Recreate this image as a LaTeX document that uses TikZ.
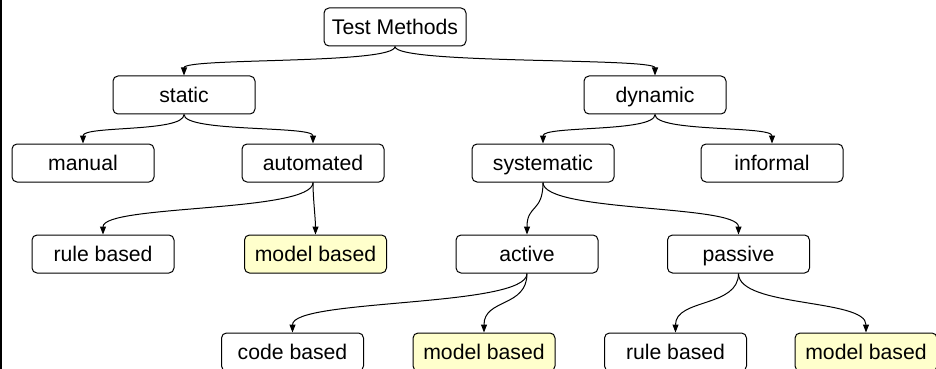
\documentclass[tikz,border=0pt]{standalone}
\usepackage{fontspec}
\setmainfont{Liberation Sans}
\usetikzlibrary{arrows.meta}
\tikzset{
  box/.style={draw=black, line width=0.5pt, rounded corners=2.5pt, minimum width=71pt, minimum height=19pt, inner sep=0pt, text height=0.75em, text depth=0em, font=\fontsize{10.6}{12}\selectfont, fill=white},
  hl/.style={box, fill=yellowbox},
  edge/.style={draw=black, line width=0.5pt, -{Triangle[length=4pt,width=3pt]}}
}
\definecolor{yellowbox}{RGB}{255,255,204}
\newcommand{\sedge}[3]{\draw[edge] (#1.south) .. controls +(0,-#3) and +(0,#3) .. (#2.north);}
\begin{document}
\begin{tikzpicture}[x=0.5pt,y=-0.5pt]
\clip (0,0) rectangle (936,369);
\fill[white] (0,0) rectangle (936,369);
\draw[line width=0.9pt] (0.9,0) -- (0.9,369);
\node[box] (tm) at (395,27) {Test Methods};
\node[box] (static) at (184,95) {static};
\node[box] (dynamic) at (655,95) {dynamic};
\node[box] (manual) at (83,163) {manual};
\node[box] (automated) at (313,163) {automated};
\node[box] (systematic) at (543,163) {systematic};
\node[box] (informal) at (772,163) {informal};
\node[box] (ruleL) at (103,254) {rule based};
\node[hl] (modelL) at (315.5,254) {model based};
\node[box] (active) at (527,254) {active};
\node[box] (passive) at (738.5,254) {passive};
\node[box] (code) at (292.5,352) {code based};
\node[hl] (modelB1) at (484,352) {model based};
\node[box] (ruleB) at (675.5,352) {rule based};
\node[hl] (modelB2) at (866,352) {model based};
\sedge{tm}{static}{9pt}
\sedge{tm}{dynamic}{9pt}
\sedge{static}{manual}{9pt}
\sedge{static}{automated}{9pt}
\sedge{dynamic}{systematic}{9pt}
\sedge{dynamic}{informal}{9pt}
\sedge{automated}{ruleL}{15pt}
\sedge{automated}{modelL}{8pt}
\sedge{systematic}{active}{15pt}
\sedge{systematic}{passive}{15pt}
\sedge{active}{code}{17pt}
\sedge{active}{modelB1}{17pt}
\sedge{passive}{ruleB}{17pt}
\sedge{passive}{modelB2}{17pt}
\end{tikzpicture}
\end{document}
